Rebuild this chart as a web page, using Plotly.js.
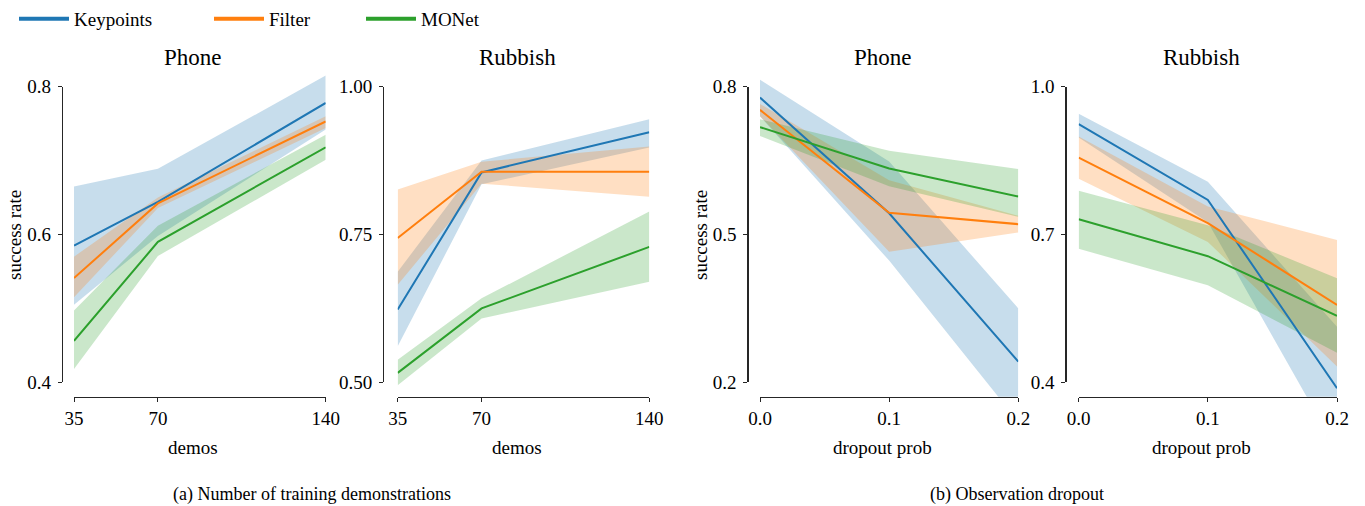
<!DOCTYPE html>
<html>
<head>
<meta charset="utf-8">
<script src="https://cdn.plot.ly/plotly-3.0.1.min.js"></script>
<style>html,body{margin:0;padding:0;background:#fff;}#chart{width:1365px;height:506px;}</style>
</head>
<body>
<div id="chart"></div>
<script>
// ---------- data ----------
const seriesNames = ["Keypoints", "Filter", "MONet"];
const panelTitles = ["Phone", "Rubbish", "Phone", "Rubbish"];
const xTitles = ["demos", "demos", "dropout prob", "dropout prob"];
const captions = ["(a) Number of training demonstrations", "(b) Observation dropout"];

const demos = [35, 70, 140];
const dropout = [0.0, 0.1, 0.2];
const demosTickText = ["35", "70", "140"];
const dropoutTickText = ["0.0", "0.1", "0.2"];

// Panel 1: Phone vs demos
const p1KpMean = [0.585, 0.644, 0.778], p1KpLo = [0.505, 0.598, 0.742], p1KpHi = [0.665, 0.689, 0.815];
const p1FiMean = [0.541, 0.642, 0.753], p1FiLo = [0.515, 0.636, 0.744], p1FiHi = [0.570, 0.650, 0.760];
const p1MoMean = [0.456, 0.590, 0.718], p1MoLo = [0.418, 0.571, 0.701], p1MoHi = [0.497, 0.612, 0.735];
const p1YTicks = [0.4, 0.6, 0.8], p1YTickText = ["0.4", "0.6", "0.8"];

// Panel 2: Rubbish vs demos
const p2KpMean = [0.623, 0.855, 0.923], p2KpLo = [0.561, 0.835, 0.897], p2KpHi = [0.687, 0.875, 0.945];
const p2FiMean = [0.744, 0.856, 0.856], p2FiLo = [0.665, 0.836, 0.814], p2FiHi = [0.826, 0.873, 0.899];
const p2MoMean = [0.516, 0.625, 0.729], p2MoLo = [0.495, 0.608, 0.670], p2MoHi = [0.538, 0.642, 0.789];
const p2YTicks = [0.5, 0.75, 1.0], p2YTickText = ["0.50", "0.75", "1.00"];

// Panel 3: Phone vs dropout prob
const p3KpMean = [0.778, 0.543, 0.242], p3KpLo = [0.740, 0.447, 0.120], p3KpHi = [0.814, 0.648, 0.350];
const p3FiMean = [0.753, 0.544, 0.521], p3FiLo = [0.740, 0.465, 0.504], p3FiHi = [0.765, 0.610, 0.538];
const p3MoMean = [0.718, 0.634, 0.577], p3MoLo = [0.700, 0.598, 0.536], p3MoHi = [0.734, 0.670, 0.633];
const p3YTicks = [0.2, 0.5, 0.8], p3YTickText = ["0.2", "0.5", "0.8"];

// Panel 4: Rubbish vs dropout prob
const p4KpMean = [0.924, 0.770, 0.388], p4KpLo = [0.897, 0.725, 0.262], p4KpHi = [0.945, 0.807, 0.513];
const p4FiMean = [0.856, 0.723, 0.557], p4FiLo = [0.813, 0.685, 0.432], p4FiHi = [0.899, 0.757, 0.689];
const p4MoMean = [0.731, 0.656, 0.535], p4MoLo = [0.671, 0.597, 0.460], p4MoHi = [0.789, 0.719, 0.611];
const p4YTicks = [0.4, 0.7, 1.0], p4YTickText = ["0.4", "0.7", "1.0"];

// ---------- styling / layout ----------
const W = 1365, H = 506;
const fx = v => v / W;
const fy = v => 1 - v / H;
const colors = ["#1f77b4", "#ff7f0e", "#2ca02c"];
const bandColors = ["rgba(31,119,180,0.25)", "rgba(255,127,14,0.25)", "rgba(44,160,44,0.25)"];
const FONT = "'Liberation Serif', 'DejaVu Serif', serif";
const SPINE = "#262626";

const panels = [
  {x: demos, xt: demosTickText, yt: p1YTicks, ytt: p1YTickText,
   mean: [p1KpMean, p1FiMean, p1MoMean], lo: [p1KpLo, p1FiLo, p1MoLo], hi: [p1KpHi, p1FiHi, p1MoHi],
   spine: 61.7, x0: 74, x1: 325.7, tc: 193, xtc: 192.5},
  {x: demos, xt: demosTickText, yt: p2YTicks, ytt: p2YTickText,
   mean: [p2KpMean, p2FiMean, p2MoMean], lo: [p2KpLo, p2FiLo, p2MoLo], hi: [p2KpHi, p2FiHi, p2MoHi],
   spine: 383, x0: 397.7, x1: 649.3, tc: 517, xtc: 517},
  {x: dropout, xt: dropoutTickText, yt: p3YTicks, ytt: p3YTickText,
   mean: [p3KpMean, p3FiMean, p3MoMean], lo: [p3KpLo, p3FiLo, p3MoLo], hi: [p3KpHi, p3FiHi, p3MoHi],
   spine: 747.3, x0: 760, x1: 1018.3, tc: 883, xtc: 882.5},
  {x: dropout, xt: dropoutTickText, yt: p4YTicks, ytt: p4YTickText,
   mean: [p4KpMean, p4FiMean, p4MoMean], lo: [p4KpLo, p4FiLo, p4MoLo], hi: [p4KpHi, p4FiHi, p4MoHi],
   spine: 1065.3, x0: 1078.7, x1: 1337, tc: 1201, xtc: 1201.5}
];

// pixel rows
const AX_TOP = 72.3, AX_BOT = 396.7, TICK_TOP = 86.7, TICK_BOT = 382.3;

const traces = [];
const layout = {
  width: W, height: H,
  margin: {l: 0, r: 0, t: 0, b: 0},
  paper_bgcolor: "#fff", plot_bgcolor: "rgba(0,0,0,0)",
  font: {family: FONT, color: "#000", size: 19},
  showlegend: true,
  annotations: []
};

panels.forEach((p, i) => {
  const n = i + 1, s = n + 4;
  const xa = n === 1 ? "x" : "x" + n;
  const ya = n === 1 ? "y" : "y" + n;
  const ys = "y" + s;
  const t0 = p.yt[0], t1 = p.yt[p.yt.length - 1];
  const per = (t1 - t0) / (TICK_BOT - TICK_TOP);
  const ylo = t0 - (AX_BOT - TICK_BOT) * per;
  const yhi = t1 + (TICK_TOP - AX_TOP) * per;
  const xspan = p.x[p.x.length - 1] - p.x[0];

  // bands
  for (let k = 0; k < 3; k++) {
    traces.push({x: p.x, y: p.lo[k], xaxis: xa, yaxis: ya, mode: "lines",
      line: {width: 0, color: bandColors[k]}, showlegend: false, hoverinfo: "skip"});
    traces.push({x: p.x, y: p.hi[k], xaxis: xa, yaxis: ya, mode: "lines", fill: "tonexty",
      fillcolor: bandColors[k], line: {width: 0, color: bandColors[k]}, showlegend: false, hoverinfo: "skip"});
  }
  // mean lines
  for (let k = 0; k < 3; k++) {
    traces.push({x: p.x, y: p.mean[k], xaxis: xa, yaxis: ya, mode: "lines",
      line: {width: 2, color: colors[k]}, name: seriesNames[k], showlegend: false});
  }
  // invisible trace carrying the trimmed y spine axis
  traces.push({x: [null], y: [null], xaxis: xa, yaxis: ys, mode: "lines", showlegend: false, hoverinfo: "skip"});

  layout[n === 1 ? "xaxis" : "xaxis" + n] = {
    domain: [fx(p.x0), fx(p.x1)],
    range: [p.x[0] - xspan * 1e-6, p.x[p.x.length - 1] + xspan * 1e-6],
    anchor: ya, showline: true, linecolor: SPINE, linewidth: 1.2,
    ticks: "outside", ticklen: 4, tickwidth: 1, tickcolor: SPINE,
    tickmode: "array", tickvals: p.x, ticktext: p.xt,
    showgrid: false, zeroline: false, tickfont: {family: FONT, size: 19, color: "#000"},
    fixedrange: true
  };
  layout[n === 1 ? "yaxis" : "yaxis" + n] = {
    domain: [fy(AX_BOT), fy(AX_TOP)], range: [ylo, yhi], anchor: xa,
    showline: false, showticklabels: false, ticks: "", showgrid: false, zeroline: false, fixedrange: true
  };
  layout["yaxis" + s] = {
    domain: [fy(TICK_BOT), fy(TICK_TOP)],
    range: [t0 - (t1 - t0) * 1e-6, t1 + (t1 - t0) * 1e-6],
    anchor: "free", position: fx(p.spine),
    showline: true, linecolor: SPINE, linewidth: 1.2,
    ticks: "outside", ticklen: 4, tickwidth: 1, tickcolor: SPINE,
    tickmode: "array", tickvals: p.yt, ticktext: p.ytt, ticklabelstandoff: 3,
    showgrid: false, zeroline: false, tickfont: {family: FONT, size: 19, color: "#000"},
    fixedrange: true
  };

  layout.annotations.push({text: panelTitles[i], xref: "paper", yref: "paper",
    x: fx(p.tc), y: fy(57), xanchor: "center", yanchor: "middle", showarrow: false,
    font: {family: FONT, size: 23, color: "#000"}});
  layout.annotations.push({text: xTitles[i], xref: "paper", yref: "paper",
    x: fx(p.xtc), y: fy(447), xanchor: "center", yanchor: "middle", showarrow: false,
    font: {family: FONT, size: 19, color: "#000"}});
});

// y titles
[14, 700].forEach(xp => {
  layout.annotations.push({text: "success rate", xref: "paper", yref: "paper", textangle: -90,
    x: fx(xp), y: fy(235), xanchor: "center", yanchor: "middle", showarrow: false,
    font: {family: FONT, size: 19, color: "#000"}});
});
// captions
[[311.5, captions[0]], [1016.5, captions[1]]].forEach(([xp, t]) => {
  layout.annotations.push({text: t, xref: "paper", yref: "paper",
    x: fx(xp), y: fy(494), xanchor: "center", yanchor: "middle", showarrow: false,
    font: {family: FONT, size: 18, color: "#000"}});
});

// legend: one legend per entry so each sits where the reference puts it
const legendX = [14, 209, 361];
seriesNames.forEach((nm, k) => {
  const lg = k === 0 ? "legend" : "legend" + (k + 1);
  traces.push({x: [null], y: [null], xaxis: "x", yaxis: "y", mode: "lines", name: nm,
    line: {width: 4, color: colors[k]}, legend: lg, showlegend: true, hoverinfo: "skip"});
  layout[lg] = {x: fx(legendX[k]), y: 1, xanchor: "left", yanchor: "top",
    orientation: "h", bgcolor: "rgba(0,0,0,0)", borderwidth: 0, itemwidth: 50,
    font: {family: FONT, size: 19, color: "#000"}};
});

Plotly.newPlot("chart", traces, layout, {staticPlot: true, displayModeBar: false});
</script>
</body>
</html>
